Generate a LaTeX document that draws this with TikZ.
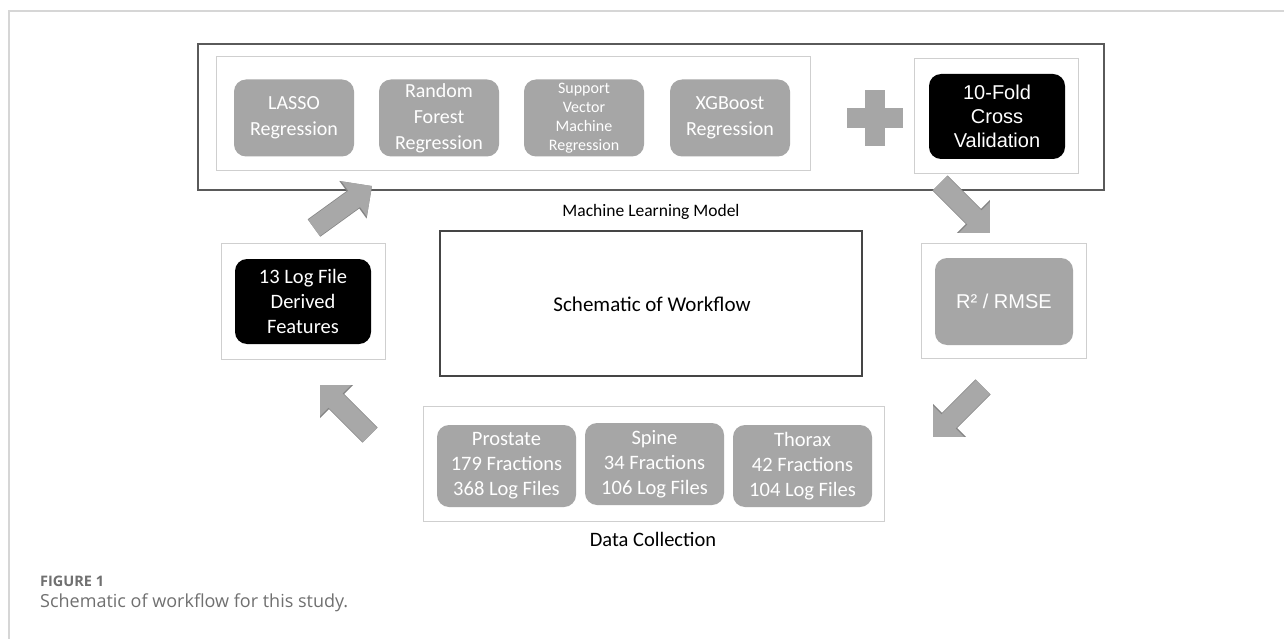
\documentclass[tikz,border=0pt]{standalone}
\usepackage{fontspec}
\setmainfont{Carlito}
\newfontfamily\arialfont{Liberation Sans}
\newfontfamily\capfont{Open Sans}
\usetikzlibrary{arrows.meta}
\definecolor{boxgray}{HTML}{A6A6A6}
\definecolor{arrowgray}{HTML}{A8A8A8}
\definecolor{arrowedge}{HTML}{858585}
\definecolor{lightline}{HTML}{CFCFCF}
\definecolor{darkline}{HTML}{5A5A5A}
\definecolor{centerline}{HTML}{454545}
\definecolor{framegray}{HTML}{D6D6D6}
\definecolor{capgray}{HTML}{707070}
\tikzset{
  lightbox/.style={draw=lightline, line width=1pt, inner sep=0pt, outer sep=0pt},
  graybox/.style={fill=boxgray, rounded corners=12pt, text=white, align=center, inner sep=0pt, outer sep=0pt},
  blackbox/.style={fill=black, rounded corners=12pt, text=white, align=center, inner sep=0pt, outer sep=0pt},
  calfont/.style={font=\fontsize{20}{26}\selectfont},
  smallcal/.style={font=\fontsize{16}{19}\selectfont},
  datafont/.style={font=\fontsize{20.5}{25}\selectfont},
  arfont/.style={font=\arialfont\fontsize{20}{24}\selectfont},
  labeltext/.style={text=black, inner sep=0pt},
  blockarrow/.style={draw=arrowgray, line width=20pt, -{Triangle[length=22pt,width=42pt]},
    preaction={draw=arrowedge, line width=21.5pt, -{Triangle[length=23.5pt,width=45pt]}}}
}
\begin{document}
\begin{tikzpicture}[x=1pt,y=-1pt]
\useasboundingbox (0,0) rectangle (1284,639);
\fill[white] (0,0) rectangle (1284,639);
% outer frame
\draw[framegray, line width=1.5pt] (9,639) -- (9,11) -- (1284,11);

% machine learning model
\node[draw=darkline, line width=2.2pt, minimum width=906pt, minimum height=146pt, inner sep=0pt] (ml) at (651,117) {};
\node[lightbox, minimum width=594pt, minimum height=114pt] (models) at (513,114) {};
\node[graybox, calfont, minimum width=120pt, minimum height=77pt] (lasso) at (294,118) {LASSO\\Regression};
\node[graybox, calfont, minimum width=120pt, minimum height=77pt] (rf) at (439,118) {Random\\Forest\\Regression};
\node[graybox, smallcal, minimum width=120pt, minimum height=77pt] (svm) at (584,118) {Support\\Vector\\Machine\\Regression};
\node[graybox, calfont, minimum width=120pt, minimum height=77pt] (xgb) at (730,118) {XGBoost\\Regression};
\fill[boxgray] (847,108) rectangle (903,128);
\fill[boxgray] (865,90) rectangle (885,146);
\node[lightbox, minimum width=164pt, minimum height=115pt] (cvbox) at (996,116.5) {};
\node[blackbox, arfont, minimum width=136pt, minimum height=85pt] (cv) at (997,116.5) {10-Fold\\Cross\\Validation};
\node[labeltext, font=\fontsize{17.5}{21}\selectfont] (mllabel) at (651,212) {Machine Learning Model};

% center
\node[draw=centerline, line width=1.2pt, minimum width=422pt, minimum height=145pt, inner sep=0pt] (center) at (651,303.5) {};
\node[labeltext, font=\fontsize{21}{25}\selectfont] (centertext) at (652,304) {Schematic of Workflow};

% features
\node[lightbox, minimum width=164pt, minimum height=116pt] (featbox) at (303,301) {};
\node[blackbox, datafont, minimum width=136pt, minimum height=85pt] (feat) at (303,301.5) {13 Log File\\Derived\\Features};

% metrics
\node[lightbox, minimum width=165pt, minimum height=115pt] (metbox) at (1003.5,300.5) {};
\node[graybox, arfont, minimum width=138pt, minimum height=87pt] (met) at (1004,301.5) {R² / RMSE};

% data collection
\node[lightbox, minimum width=461pt, minimum height=115pt] (databox) at (653.5,463.5) {};
\node[graybox, datafont, minimum width=139pt, minimum height=82pt] (prostate) at (506.5,466) {Prostate\\179 Fractions\\368 Log Files};
\node[graybox, datafont, minimum width=139pt, minimum height=82pt] (spine) at (654.5,464) {Spine\\34 Fractions\\106 Log Files};
\node[graybox, datafont, minimum width=139pt, minimum height=82pt] (thorax) at (802.5,466) {Thorax\\42 Fractions\\104 Log Files};
\node[labeltext, font=\fontsize{20.5}{24}\selectfont] (datalabel) at (653,539) {Data Collection};

% arrows
\coordinate (a1s) at (314,228); \coordinate (a1e) at (372,186);
\coordinate (a2s) at (940,183); \coordinate (a2e) at (990,233);
\coordinate (a3s) at (983,387); \coordinate (a3e) at (933,437);
\coordinate (a4s) at (370,435); \coordinate (a4e) at (320,385);
\draw[blockarrow] (a1s) -- (a1e);
\draw[blockarrow] (a2s) -- (a2e);
\draw[blockarrow] (a3s) -- (a3e);
\draw[blockarrow] (a4s) -- (a4e);

% caption
\node[anchor=west, inner sep=0pt, text=capgray, font=\capfont\bfseries\fontsize{14.5}{16}\selectfont] (figlabel) at (40,581) {FIGURE 1};
\node[anchor=west, inner sep=0pt, text=capgray, font=\capfont\fontsize{18}{21}\selectfont] (caption) at (40,603) {Schematic of workflow for this study.};
\end{tikzpicture}
\end{document}
